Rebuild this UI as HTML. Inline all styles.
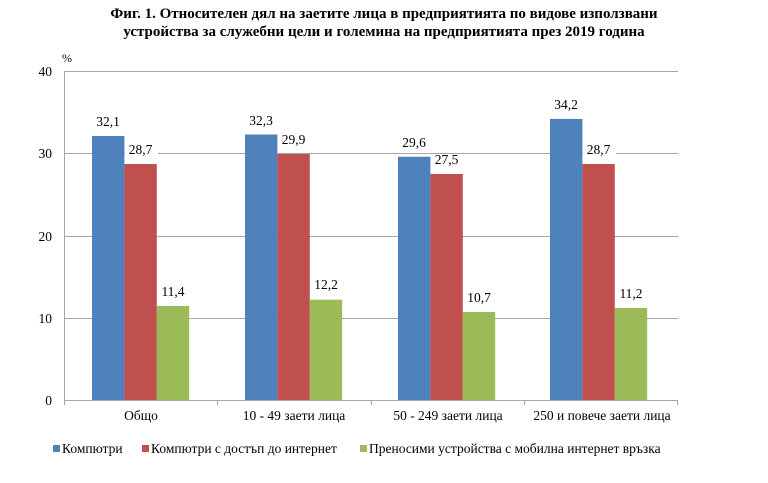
<!DOCTYPE html>
<html><head><meta charset="utf-8"><style>
body{margin:0;background:#fff;width:768px;height:478px;overflow:hidden}
text{font-family:"Liberation Serif",serif}
</style></head><body>
<svg width="768" height="478" xmlns="http://www.w3.org/2000/svg">
<text x="384" y="18" text-anchor="middle" font-size="15" font-weight="bold">Фиг. 1. Относителен дял на заетите лица в предприятията по видове използвани</text>
<text x="384" y="36" text-anchor="middle" font-size="15" font-weight="bold">устройства за служебни цели и големина на предприятията през 2019 година</text>
<text x="62" y="62" font-size="12">%</text>
<g stroke="#a6a6a6" stroke-width="1">
<line x1="64" y1="71.5" x2="678" y2="71.5"/>
<line x1="64" y1="153.5" x2="678" y2="153.5"/>
<line x1="64" y1="236.5" x2="678" y2="236.5"/>
<line x1="64" y1="318.5" x2="678" y2="318.5"/>
<line x1="64" y1="400.5" x2="678" y2="400.5"/>
<line x1="64.5" y1="71" x2="64.5" y2="400"/>
<line x1="64.5" y1="400" x2="64.5" y2="405"/>
<line x1="217.5" y1="400" x2="217.5" y2="405"/>
<line x1="371.5" y1="400" x2="371.5" y2="405"/>
<line x1="524.5" y1="400" x2="524.5" y2="405"/>
<line x1="677.5" y1="400" x2="677.5" y2="405"/>
</g>
<g font-size="13.5" text-anchor="end">
<text x="52" y="76">40</text><text x="52" y="158">30</text><text x="52" y="241">20</text><text x="52" y="323">10</text><text x="52" y="405">0</text>
</g>
<g>
<rect x="92" y="136" width="32.4" height="264" fill="#4F81BD"/>
<rect x="124.4" y="164" width="32.4" height="236" fill="#C0504D"/>
<rect x="156.8" y="306" width="32.4" height="94" fill="#9BBB59"/>
<rect x="245" y="134.5" width="32.4" height="265.5" fill="#4F81BD"/>
<rect x="277.4" y="154" width="32.4" height="246" fill="#C0504D"/>
<rect x="309.8" y="299.7" width="32.4" height="100.3" fill="#9BBB59"/>
<rect x="398" y="156.7" width="32.4" height="243.3" fill="#4F81BD"/>
<rect x="430.4" y="174" width="32.4" height="226" fill="#C0504D"/>
<rect x="462.8" y="312" width="32.4" height="88" fill="#9BBB59"/>
<rect x="550" y="118.9" width="32.4" height="281.1" fill="#4F81BD"/>
<rect x="582.4" y="164" width="32.4" height="236" fill="#C0504D"/>
<rect x="614.8" y="308" width="32.4" height="92" fill="#9BBB59"/>
</g>
<g font-size="13.5" text-anchor="middle">
<rect x="125" y="144" width="33" height="14" fill="#fff"/>
<rect x="279" y="134" width="33" height="14" fill="#fff"/>
<rect x="431" y="154" width="33" height="14" fill="#fff"/>
<rect x="583" y="144" width="33" height="14" fill="#fff"/>
<text x="108" y="126">32,1</text><text x="140.5" y="154">28,7</text><text x="173" y="296">11,4</text>
<text x="261" y="125">32,3</text><text x="293.5" y="144">29,9</text><text x="326" y="289">12,2</text>
<text x="414" y="147">29,6</text><text x="446.5" y="164">27,5</text><text x="479" y="302">10,7</text>
<text x="566" y="109">34,2</text><text x="598.5" y="154">28,7</text><text x="631" y="298">11,2</text>
</g>
<g font-size="13.5" text-anchor="middle">
<text x="141" y="420">Общо</text>
<text x="294" y="420">10 - 49 заети лица</text>
<text x="448" y="420">50 - 249 заети лица</text>
<text x="602" y="420">250 и повече заети лица</text>
</g>
<g font-size="13.5">
<rect x="53" y="445" width="7" height="7" fill="#4F81BD"/><text x="62" y="453">Компютри</text>
<rect x="142" y="445" width="7" height="7" fill="#C0504D"/><text x="151" y="453">Компютри с достъп до интернет</text>
<rect x="360" y="445" width="7" height="7" fill="#9BBB59"/><text x="369" y="453">Преносими устройства с мобилна интернет връзка</text>
</g>
</svg>
</body></html>
